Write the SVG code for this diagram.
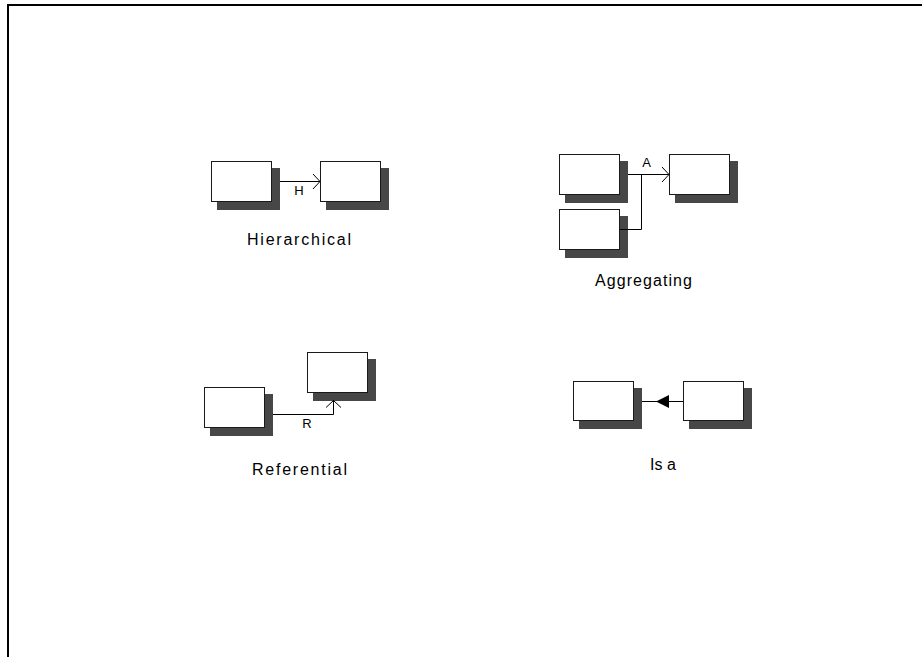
<svg xmlns="http://www.w3.org/2000/svg" width="922" height="657" viewBox="0 0 922 657">
<defs>
<style>
.box{fill:#fff;stroke:#1a1a1a;stroke-width:1}
.shadow{fill:#474747}
.conn{fill:none;stroke:#000;stroke-width:1}
.lbl{font-family:"Liberation Sans",Arial,sans-serif;font-size:13px;fill:#000;text-anchor:middle}
.cap{font-family:"Liberation Sans",Arial,sans-serif;font-size:16px;fill:#000}
</style>
<marker id="open" markerUnits="userSpaceOnUse" markerWidth="10" markerHeight="16" refX="8" refY="8" orient="auto" viewBox="0 0 10 16">
<path d="M1,0.5 L8,8 L1,15.5" fill="none" stroke="#000" stroke-width="1"/>
</marker>
<marker id="solid" markerUnits="userSpaceOnUse" markerWidth="14" markerHeight="14" refX="13" refY="6.5" orient="auto" viewBox="0 0 14 14">
<path d="M0,0 L13,6.5 L0,13 Z" fill="#000"/>
</marker>
</defs>
<rect width="922" height="657" fill="#fff"/>
<path d="M8,657 V5 H922" fill="none" stroke="#000" stroke-width="2"/>

<g id="hier-a"><rect class="shadow" x="217" y="168" width="63" height="42"/><rect class="box" x="211.5" y="161.5" width="60" height="40"/></g>
<g id="hier-b"><rect class="shadow" x="326" y="168" width="63" height="42"/><rect class="box" x="320.5" y="161.5" width="60" height="40"/></g>

<g id="agg-a"><rect class="shadow" x="565" y="161" width="63" height="42"/><rect class="box" x="559.5" y="154.5" width="60" height="40"/></g>
<g id="agg-b"><rect class="shadow" x="565" y="216" width="63" height="42"/><rect class="box" x="559.5" y="209.5" width="60" height="40"/></g>
<g id="agg-c"><rect class="shadow" x="675" y="161" width="63" height="42"/><rect class="box" x="669.5" y="154.5" width="60" height="40"/></g>

<g id="ref-a"><rect class="shadow" x="210" y="394" width="63" height="42"/><rect class="box" x="204.5" y="387.5" width="60" height="40"/></g>
<g id="ref-b"><rect class="shadow" x="313" y="359" width="63" height="42"/><rect class="box" x="307.5" y="352.5" width="60" height="40"/></g>

<g id="isa-a"><rect class="shadow" x="579" y="388" width="63" height="41"/><rect class="box" x="573.5" y="381.5" width="60" height="39"/></g>
<g id="isa-b"><rect class="shadow" x="689" y="388" width="63" height="41"/><rect class="box" x="683.5" y="381.5" width="60" height="39"/></g>

<g id="connectors">
<path class="conn" d="M280,181.5 H320" marker-end="url(#open)"/>
<path class="conn" d="M628,174.5 H669" marker-end="url(#open)"/>
<path class="conn" d="M620,229.5 H641.5 V174.5"/>
<path class="conn" d="M273,414.5 H333.5 V400.5" marker-end="url(#open)"/>
<path class="conn" d="M642,401.5 H656"/>
<path class="conn" d="M683,401.5 H656" marker-end="url(#solid)"/>
</g>

<g id="labels">
<text class="lbl" x="299" y="195">H</text>
<text class="lbl" x="646.5" y="167">A</text>
<text class="lbl" x="307" y="428">R</text>
<text class="cap" x="247" y="245" textLength="104" lengthAdjust="spacing">Hierarchical</text>
<text class="cap" x="595" y="286" textLength="97" lengthAdjust="spacing">Aggregating</text>
<text class="cap" x="252" y="475" textLength="95" lengthAdjust="spacing">Referential</text>
<text class="cap" x="650" y="470">Is a</text>
</g>
</svg>
